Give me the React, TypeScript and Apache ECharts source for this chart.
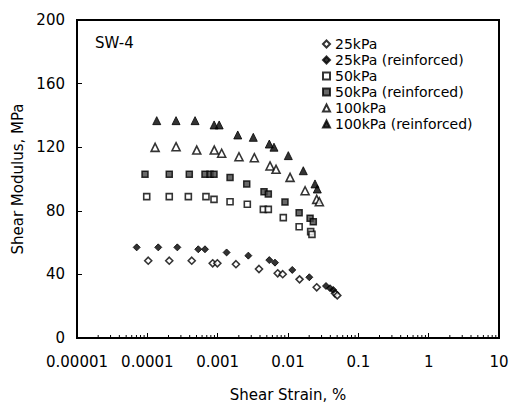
import React, { useEffect, useRef } from "react";
import * as echarts from "echarts";

// Shear strain (%) and shear modulus (MPa) for each test
const strain25 = [1.03e-4, 2.05e-4, 4.28e-4, 8.5e-4, 9.9e-4, 1.82e-3, 3.87e-3, 7.14e-3, 8.41e-3, 0.0146, 0.0256, 0.0466, 0.0502];
const modulus25 = [48.6, 48.6, 48.6, 47, 47, 46.4, 43.4, 40.7, 40.1, 36.9, 31.9, 28.1, 26.8];

const strain25R = [7.06e-5, 1.43e-4, 2.67e-4, 5.3e-4, 6.6e-4, 1.34e-3, 2.73e-3, 5.42e-3, 6.53e-3, 0.0115, 0.0201, 0.0347, 0.0396, 0.044];
const modulus25R = [57, 57, 57, 55.8, 55.8, 53.8, 51.8, 49, 47.4, 42.8, 38.2, 32.7, 31.3, 30.2];

const strain50 = [9.8e-5, 2.05e-4, 3.83e-4, 6.82e-4, 8.87e-4, 1.5e-3, 2.64e-3, 4.46e-3, 5.25e-3, 8.57e-3, 0.0144, 0.021, 0.0219];
const modulus50 = [88.9, 88.9, 88.9, 88.9, 87.2, 85.7, 84.1, 80.9, 80.9, 75.7, 70, 66.9, 65.2];

const strain50R = [9.27e-5, 2.05e-4, 3.95e-4, 6.6e-4, 7.78e-4, 8.87e-4, 1.5e-3, 2.59e-3, 4.56e-3, 5.25e-3, 9.06e-3, 0.0144, 0.0206, 0.0229];
const modulus50R = [103, 103, 103, 103, 103, 103, 101, 96.9, 92, 90.6, 85.5, 78.8, 75.3, 73.1];

const strain100 = [1.29e-4, 2.56e-4, 5.04e-4, 8.95e-4, 1.14e-3, 2.01e-3, 3.32e-3, 5.55e-3, 6.76e-3, 0.0107, 0.0175, 0.0256, 0.0279];
const modulus100 = [119.9, 120.3, 118.2, 118.2, 116.2, 114, 113.4, 108.2, 106.1, 101, 92.6, 87.2, 85.7];

const strain100R = [1.36e-4, 2.56e-4, 4.77e-4, 8.9e-4, 1.05e-3, 1.93e-3, 3.21e-3, 5.42e-3, 6.32e-3, 0.0101, 0.0165, 0.0242, 0.0261];
const modulus100R = [136.7, 136.7, 136.7, 134, 134, 127.7, 126.2, 122, 120, 114.7, 105.2, 96.9, 93.7];

const seriesNames = ["25kPa", "25kPa (reinforced)", "50kPa", "50kPa (reinforced)", "100kPa", "100kPa (reinforced)"];
const yTicks = [0, 40, 80, 120, 160, 200];
// log-axis minor tick positions: mantissas 2..9 in each decade
const decades = [1e-5, 1e-4, 1e-3, 1e-2, 1e-1, 1];
const mantissas = [2, 3, 4, 5, 6, 7, 8, 9];

const FONT = "DejaVu Sans";

function pairs(xs: number[], ys: number[]) {
  return xs.map((x, i) => [x, ys[i]]);
}

export default function App() {
  const ref = useRef<HTMLDivElement>(null);
  useEffect(() => {
    document.body.style.margin = "0";
    const chart = echarts.init(ref.current!, null, { renderer: "svg" });
    const open = { color: "#fff", borderColor: "#000", borderWidth: 1.6 };
    const filled = { color: "#000", borderColor: "#000", borderWidth: 1 };
    const mk = (name: string, xs: number[], ys: number[], symbol: string, size: number, style: any) => ({
      name,
      type: "scatter",
      data: pairs(xs, ys),
      symbol,
      symbolSize: size,
      itemStyle: style,
      emphasis: { disabled: true },
    });
    const minorTicks: number[][] = [];
    decades.forEach((d) => mantissas.forEach((m) => minorTicks.push([d * m, yTicks[0]])));
    chart.setOption({
      animation: false,
      backgroundColor: "#fff",
      textStyle: { fontFamily: FONT },
      grid: {
        left: 77, right: 18, top: 20, bottom: 65,
        containLabel: false, outerBoundsMode: "none",
        show: true, borderColor: "#000", borderWidth: 2, backgroundColor: "transparent",
      },
      legend: {
        orient: "vertical",
        left: 317,
        top: 31,
        itemWidth: 7,
        itemHeight: 7,
        itemGap: 0,
        data: seriesNames,
        textStyle: { fontFamily: FONT, fontSize: 14, color: "#000", lineHeight: 16, height: 16 },
        selectedMode: false,
      },
      graphic: [
        { type: "text", left: 95, top: 35, style: { text: "SW-4", font: `15px '${FONT}'`, fill: "#000" } },
      ],
      xAxis: {
        type: "log",
        logBase: 10,
        min: 1e-5,
        max: 10,
        name: "Shear Strain, %",
        nameLocation: "middle",
        nameGap: 49,
        nameTextStyle: { fontFamily: FONT, fontSize: 15, color: "#000" },
        axisLine: { show: true, lineStyle: { color: "#000", width: 2 } },
        axisTick: { show: true, inside: true, length: 5, lineStyle: { color: "#000" } },
        splitLine: { show: false },
        axisLabel: {
          margin: 16,
          fontFamily: FONT,
          fontSize: 15,
          color: "#000",
          formatter: (v: number) => {
            const e = Math.round(Math.log10(v));
            return e < 0 ? Math.pow(10, e).toFixed(-e) : String(Math.pow(10, e));
          },
        },
      },
      yAxis: {
        type: "value",
        min: yTicks[0],
        max: yTicks[yTicks.length - 1],
        interval: 40,
        name: "Shear Modulus, MPa",
        nameLocation: "middle",
        nameGap: 50,
        nameTextStyle: { fontFamily: FONT, fontSize: 15, color: "#000" },
        axisLine: { show: true, lineStyle: { color: "#000", width: 2 } },
        axisTick: { show: true, inside: true, length: 5, lineStyle: { color: "#000" } },
        splitLine: { show: false },
        axisLabel: { margin: 12, fontFamily: FONT, fontSize: 15, color: "#000" },
      },
      series: [
        mk(seriesNames[0], strain25, modulus25, "diamond", 7, open),
        mk(seriesNames[1], strain25R, modulus25R, "diamond", 7, filled),
        mk(seriesNames[2], strain50, modulus50, "rect", 6, open),
        mk(seriesNames[3], strain50R, modulus50R, "rect", 6, { color: "#444", borderColor: "#000", borderWidth: 1.5 }),
        mk(seriesNames[4], strain100, modulus100, "triangle", 8, open),
        mk(seriesNames[5], strain100R, modulus100R, "triangle", 8, filled),
        {
          name: "minorTicks",
          type: "custom",
          silent: true,
          clip: false,
          data: minorTicks,
          renderItem: (params: any, api: any) => {
            const p = api.coord([api.value(0), api.value(1)]);
            return {
              type: "line",
              shape: { x1: p[0], y1: p[1], x2: p[0], y2: p[1] - 3 },
              style: { stroke: "#000", lineWidth: 1 },
            };
          },
        },
      ],
    });
    return () => chart.dispose();
  }, []);
  return <div ref={ref} style={{ width: 517, height: 403 }} />;
}
